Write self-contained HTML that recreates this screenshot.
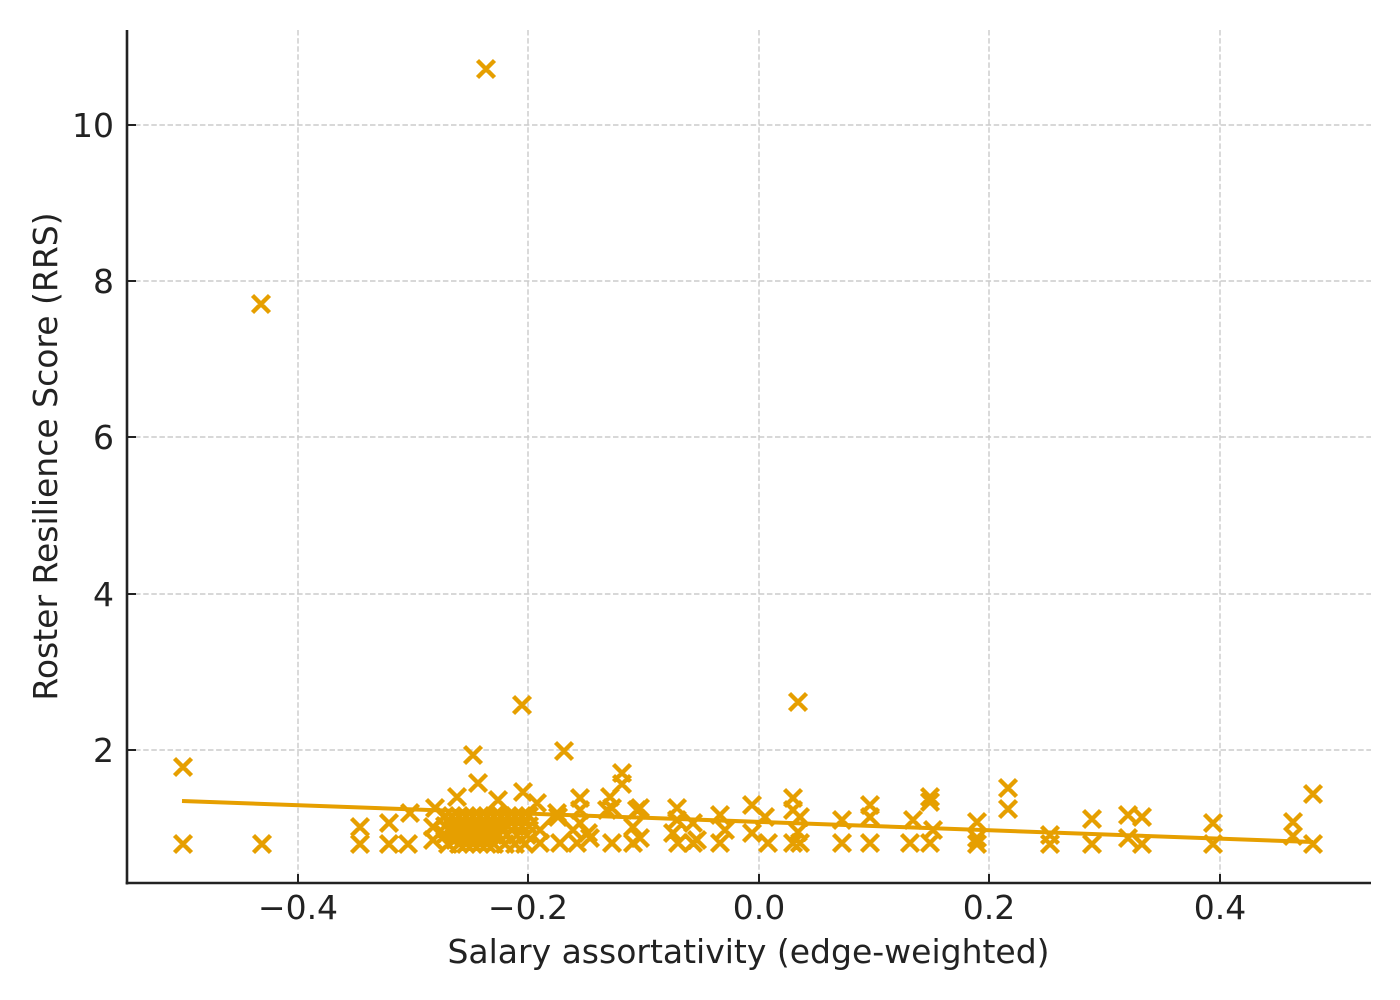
<!DOCTYPE html>
<html><head><meta charset="utf-8"><style>
html,body{margin:0;padding:0;background:#fff;}
svg{display:block;}
text{font-family:"DejaVu Sans","Liberation Sans",sans-serif;fill:#222;}
</style></head><body>
<svg width="1400" height="1000" viewBox="0 0 1400 1000" xmlns="http://www.w3.org/2000/svg">
<rect width="1400" height="1000" fill="#fff"/>
<g stroke="#cbcbcb" stroke-width="1.4" stroke-dasharray="5.5 2.6" fill="none">
<line x1="298" y1="30" x2="298" y2="883"/>
<line x1="528" y1="30" x2="528" y2="883"/>
<line x1="759" y1="30" x2="759" y2="883"/>
<line x1="989" y1="30" x2="989" y2="883"/>
<line x1="1220" y1="30" x2="1220" y2="883"/>
<line x1="127" y1="125" x2="1371" y2="125"/>
<line x1="127" y1="281" x2="1371" y2="281"/>
<line x1="127" y1="437" x2="1371" y2="437"/>
<line x1="127" y1="594" x2="1371" y2="594"/>
<line x1="127" y1="750" x2="1371" y2="750"/>
</g>
<line x1="182" y1="801" x2="1313" y2="842" stroke="#E69F00" stroke-width="4"/>
<path fill="none" stroke="#E69F00" stroke-width="4.4" d="M478.5,61.5m-1,-1l17,17m0,-17l-17,17 M253.5,296.5m-1,-1l17,17m0,-17l-17,17 M514.5,697.5m-1,-1l17,17m0,-17l-17,17 M790.5,694.5m-1,-1l17,17m0,-17l-17,17 M556.5,743.5m-1,-1l17,17m0,-17l-17,17 M465.5,747.5m-1,-1l17,17m0,-17l-17,17 M175.5,759.5m-1,-1l17,17m0,-17l-17,17 M175.5,836.5m-1,-1l17,17m0,-17l-17,17 M254.5,836.5m-1,-1l17,17m0,-17l-17,17 M352.5,819.5m-1,-1l17,17m0,-17l-17,17 M352.5,836.5m-1,-1l17,17m0,-17l-17,17 M381.5,815.5m-1,-1l17,17m0,-17l-17,17 M381.5,836.5m-1,-1l17,17m0,-17l-17,17 M402.5,805.5m-1,-1l17,17m0,-17l-17,17 M400.5,836.5m-1,-1l17,17m0,-17l-17,17 M427.5,800.5m-1,-1l17,17m0,-17l-17,17 M425.5,819.5m-1,-1l17,17m0,-17l-17,17 M425.5,832.5m-1,-1l17,17m0,-17l-17,17 M449.5,789.5m-1,-1l17,17m0,-17l-17,17 M447.5,832.5m-1,-1l17,17m0,-17l-17,17 M470.5,775.5m-1,-1l17,17m0,-17l-17,17 M490.5,792.5m-1,-1l17,17m0,-17l-17,17 M515.5,784.5m-1,-1l17,17m0,-17l-17,17 M529.5,795.5m-1,-1l17,17m0,-17l-17,17 M549.5,805.5m-1,-1l17,17m0,-17l-17,17 M572.5,790.5m-1,-1l17,17m0,-17l-17,17 M572.5,802.5m-1,-1l17,17m0,-17l-17,17 M602.5,789.5m-1,-1l17,17m0,-17l-17,17 M604.5,800.5m-1,-1l17,17m0,-17l-17,17 M614.5,765.5m-1,-1l17,17m0,-17l-17,17 M614.5,776.5m-1,-1l17,17m0,-17l-17,17 M629.5,802.5m-1,-1l17,17m0,-17l-17,17 M625.5,819.5m-1,-1l17,17m0,-17l-17,17 M625.5,835.5m-1,-1l17,17m0,-17l-17,17 M532.5,822.5m-1,-1l17,17m0,-17l-17,17 M532.5,835.5m-1,-1l17,17m0,-17l-17,17 M550.5,809.5m-1,-1l17,17m0,-17l-17,17 M552.5,835.5m-1,-1l17,17m0,-17l-17,17 M565.5,822.5m-1,-1l17,17m0,-17l-17,17 M569.5,835.5m-1,-1l17,17m0,-17l-17,17 M580.5,825.5m-1,-1l17,17m0,-17l-17,17 M582.5,830.5m-1,-1l17,17m0,-17l-17,17 M572.5,815.5m-1,-1l17,17m0,-17l-17,17 M604.5,835.5m-1,-1l17,17m0,-17l-17,17 M599.5,802.5m-1,-1l17,17m0,-17l-17,17 M437.5,808.5m-1,-1l17,17m0,-17l-17,17 M444.5,808.5m-1,-1l17,17m0,-17l-17,17 M451.5,808.5m-1,-1l17,17m0,-17l-17,17 M458.5,808.5m-1,-1l17,17m0,-17l-17,17 M465.5,808.5m-1,-1l17,17m0,-17l-17,17 M472.5,808.5m-1,-1l17,17m0,-17l-17,17 M479.5,808.5m-1,-1l17,17m0,-17l-17,17 M486.5,808.5m-1,-1l17,17m0,-17l-17,17 M493.5,808.5m-1,-1l17,17m0,-17l-17,17 M500.5,808.5m-1,-1l17,17m0,-17l-17,17 M507.5,808.5m-1,-1l17,17m0,-17l-17,17 M514.5,808.5m-1,-1l17,17m0,-17l-17,17 M521.5,808.5m-1,-1l17,17m0,-17l-17,17 M437.5,818.5m-1,-1l17,17m0,-17l-17,17 M444.5,818.5m-1,-1l17,17m0,-17l-17,17 M451.5,818.5m-1,-1l17,17m0,-17l-17,17 M458.5,818.5m-1,-1l17,17m0,-17l-17,17 M465.5,818.5m-1,-1l17,17m0,-17l-17,17 M472.5,818.5m-1,-1l17,17m0,-17l-17,17 M479.5,818.5m-1,-1l17,17m0,-17l-17,17 M486.5,818.5m-1,-1l17,17m0,-17l-17,17 M493.5,818.5m-1,-1l17,17m0,-17l-17,17 M500.5,818.5m-1,-1l17,17m0,-17l-17,17 M507.5,818.5m-1,-1l17,17m0,-17l-17,17 M514.5,818.5m-1,-1l17,17m0,-17l-17,17 M521.5,818.5m-1,-1l17,17m0,-17l-17,17 M437.5,827.5m-1,-1l17,17m0,-17l-17,17 M447.5,827.5m-1,-1l17,17m0,-17l-17,17 M454.5,827.5m-1,-1l17,17m0,-17l-17,17 M461.5,827.5m-1,-1l17,17m0,-17l-17,17 M468.5,827.5m-1,-1l17,17m0,-17l-17,17 M475.5,827.5m-1,-1l17,17m0,-17l-17,17 M482.5,827.5m-1,-1l17,17m0,-17l-17,17 M489.5,827.5m-1,-1l17,17m0,-17l-17,17 M499.5,827.5m-1,-1l17,17m0,-17l-17,17 M509.5,827.5m-1,-1l17,17m0,-17l-17,17 M519.5,827.5m-1,-1l17,17m0,-17l-17,17 M440.5,836.5m-1,-1l17,17m0,-17l-17,17 M451.5,836.5m-1,-1l17,17m0,-17l-17,17 M458.5,836.5m-1,-1l17,17m0,-17l-17,17 M465.5,836.5m-1,-1l17,17m0,-17l-17,17 M472.5,836.5m-1,-1l17,17m0,-17l-17,17 M479.5,836.5m-1,-1l17,17m0,-17l-17,17 M486.5,836.5m-1,-1l17,17m0,-17l-17,17 M497.5,836.5m-1,-1l17,17m0,-17l-17,17 M507.5,836.5m-1,-1l17,17m0,-17l-17,17 M517.5,836.5m-1,-1l17,17m0,-17l-17,17 M632.5,800.5m-1,-1l17,17m0,-17l-17,17 M632.5,830.5m-1,-1l17,17m0,-17l-17,17 M669.5,800.5m-1,-1l17,17m0,-17l-17,17 M669.5,812.5m-1,-1l17,17m0,-17l-17,17 M665.5,825.5m-1,-1l17,17m0,-17l-17,17 M670.5,835.5m-1,-1l17,17m0,-17l-17,17 M685.5,815.5m-1,-1l17,17m0,-17l-17,17 M685.5,835.5m-1,-1l17,17m0,-17l-17,17 M689.5,832.5m-1,-1l17,17m0,-17l-17,17 M712.5,807.5m-1,-1l17,17m0,-17l-17,17 M717.5,822.5m-1,-1l17,17m0,-17l-17,17 M712.5,835.5m-1,-1l17,17m0,-17l-17,17 M744.5,797.5m-1,-1l17,17m0,-17l-17,17 M744.5,825.5m-1,-1l17,17m0,-17l-17,17 M757.5,809.5m-1,-1l17,17m0,-17l-17,17 M760.5,835.5m-1,-1l17,17m0,-17l-17,17 M785.5,790.5m-1,-1l17,17m0,-17l-17,17 M785.5,802.5m-1,-1l17,17m0,-17l-17,17 M792.5,809.5m-1,-1l17,17m0,-17l-17,17 M790.5,824.5m-1,-1l17,17m0,-17l-17,17 M785.5,835.5m-1,-1l17,17m0,-17l-17,17 M792.5,835.5m-1,-1l17,17m0,-17l-17,17 M834.5,812.5m-1,-1l17,17m0,-17l-17,17 M834.5,835.5m-1,-1l17,17m0,-17l-17,17 M862.5,797.5m-1,-1l17,17m0,-17l-17,17 M862.5,809.5m-1,-1l17,17m0,-17l-17,17 M862.5,835.5m-1,-1l17,17m0,-17l-17,17 M905.5,812.5m-1,-1l17,17m0,-17l-17,17 M902.5,835.5m-1,-1l17,17m0,-17l-17,17 M922.5,789.5m-1,-1l17,17m0,-17l-17,17 M922.5,794.5m-1,-1l17,17m0,-17l-17,17 M925.5,822.5m-1,-1l17,17m0,-17l-17,17 M922.5,835.5m-1,-1l17,17m0,-17l-17,17 M969.5,814.5m-1,-1l17,17m0,-17l-17,17 M969.5,830.5m-1,-1l17,17m0,-17l-17,17 M969.5,836.5m-1,-1l17,17m0,-17l-17,17 M1000.5,780.5m-1,-1l17,17m0,-17l-17,17 M1000.5,801.5m-1,-1l17,17m0,-17l-17,17 M1042.5,827.5m-1,-1l17,17m0,-17l-17,17 M1042.5,836.5m-1,-1l17,17m0,-17l-17,17 M1084.5,811.5m-1,-1l17,17m0,-17l-17,17 M1084.5,836.5m-1,-1l17,17m0,-17l-17,17 M1120.5,807.5m-1,-1l17,17m0,-17l-17,17 M1134.5,809.5m-1,-1l17,17m0,-17l-17,17 M1120.5,830.5m-1,-1l17,17m0,-17l-17,17 M1134.5,836.5m-1,-1l17,17m0,-17l-17,17 M1205.5,815.5m-1,-1l17,17m0,-17l-17,17 M1205.5,836.5m-1,-1l17,17m0,-17l-17,17 M1285.5,814.5m-1,-1l17,17m0,-17l-17,17 M1285.5,828.5m-1,-1l17,17m0,-17l-17,17 M1305.5,786.5m-1,-1l17,17m0,-17l-17,17 M1305.5,836.5m-1,-1l17,17m0,-17l-17,17"/>
<g stroke="#222" stroke-width="2">
<line x1="298" y1="874" x2="298" y2="883"/>
<line x1="528" y1="874" x2="528" y2="883"/>
<line x1="759" y1="874" x2="759" y2="883"/>
<line x1="989" y1="874" x2="989" y2="883"/>
<line x1="1220" y1="874" x2="1220" y2="883"/>
<line x1="127" y1="125" x2="136" y2="125"/>
<line x1="127" y1="281" x2="136" y2="281"/>
<line x1="127" y1="437" x2="136" y2="437"/>
<line x1="127" y1="594" x2="136" y2="594"/>
<line x1="127" y1="750" x2="136" y2="750"/>
</g>
<line x1="127" y1="30" x2="127" y2="884.5" stroke="#222" stroke-width="2.6"/>
<line x1="125.7" y1="883" x2="1371" y2="883" stroke="#222" stroke-width="2.6"/>
<g font-size="33" text-anchor="middle">
<text x="298" y="919">−0.4</text>
<text x="528" y="919">−0.2</text>
<text x="759" y="919">0.0</text>
<text x="989" y="919">0.2</text>
<text x="1220" y="919">0.4</text>
</g>
<g font-size="33" text-anchor="end">
<text x="114" y="137">10</text>
<text x="114" y="293">8</text>
<text x="114" y="449">6</text>
<text x="114" y="606">4</text>
<text x="114" y="762">2</text>
</g>
<text x="748.5" y="963" font-size="33" text-anchor="middle">Salary assortativity (edge-weighted)</text>
<text transform="translate(57,456.5) rotate(-90)" x="0" y="0" font-size="33" text-anchor="middle">Roster Resilience Score (RRS)</text>
</svg>
</body></html>
